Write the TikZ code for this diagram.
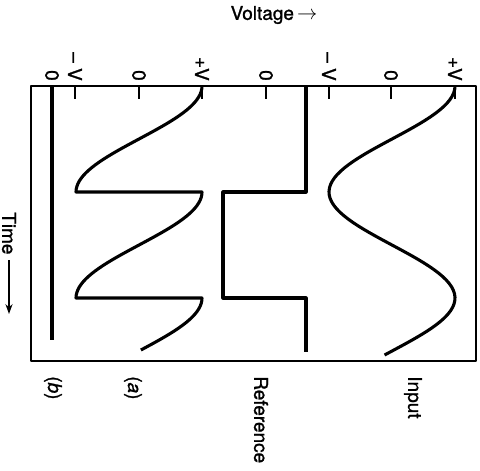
\documentclass[tikz,border=0pt]{standalone}
\usepackage{fontspec}
\setmainfont{TeX Gyre Heros}[FakeBold=1.2]
\usetikzlibrary{arrows.meta}
\begin{document}
\begin{tikzpicture}[x=0.025cm, y=-0.025cm, line join=round,
    frame/.style={line width=1.6pt},
    wave/.style={line width=2.2pt},
    lab/.style={rotate=-90, inner sep=0pt, font=\fontsize{13.5}{16}\selectfont}]
    % 1. 边框与刻度
    \useasboundingbox (0,0) rectangle (480,470);
    \draw[frame] (31,86) rectangle (476,361);
    \foreach \t in {75,139,202,266,329,391,455}
        \draw[frame] (\t,86) -- (\t,99);

    % 2. 电压刻度标注
    \foreach \t/\s in {52/0, 75/{– V}, 139/0, 202/+V, 266/0, 329/{– V}, 391/0, 455/+V}
        \node[lab, anchor=east] (v\t) at (\t,81) {\s};

    % 3. 波形 (半周期 106, 即 180/106 = 1.698)
    \draw[wave] plot[domain=86:355, samples=80] ({392+63*cos((\x-86)*1.698)}, \x);
    \draw[wave] (306,86) -- (306,192) -- (223,192) -- (223,298) -- (306,298) -- (306,352);
    \draw[wave] plot[domain=86:192, samples=40] ({139+63*cos((\x-86)*1.698)}, \x)
        -- plot[domain=192:298, samples=40] ({139-63*cos((\x-86)*1.698)}, \x)
        -- plot[domain=298:350, samples=20] ({139+63*cos((\x-86)*1.698)}, \x);
    \draw[wave] (52,86) -- (52,340);

    % 4. 名称
    \node[lab, anchor=west] (input) at (413,376) {Input};
    \node[lab, anchor=west] (ref) at (261,376) {Reference};
    \node[lab, anchor=west] (outa) at (133,376) {(\textit{a})};
    \node[lab, anchor=west] (outb) at (53,376) {(\textit{b})};
    \node[font=\fontsize{13.5}{16}\selectfont] (volt) at (274,15) {Voltage\,$\rightarrow$};
    \node[lab, anchor=west] (time) at (9,212) {Time};
    \coordinate (timeend) at (9,314);
    \draw[frame, -{Stealth[length=7pt, width=5pt]}, shorten <=4pt] (time) -- (timeend);
\end{tikzpicture}
\end{document}
